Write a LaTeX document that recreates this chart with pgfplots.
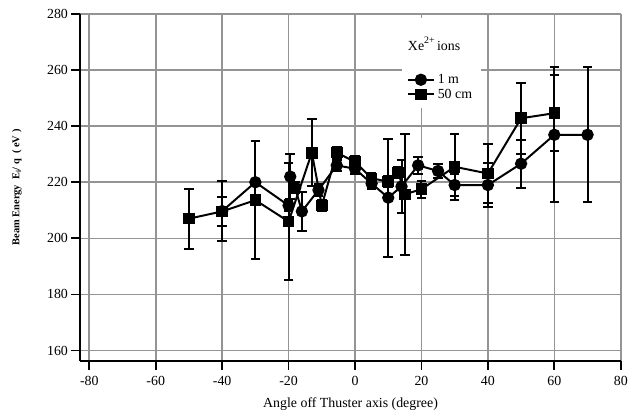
\documentclass[border=0pt]{standalone}
\usepackage{pgfplots}
\pgfplotsset{compat=1.18}
\usepackage{pgfplotstable}
\usepackage{fontspec}
\setmainfont{Liberation Serif}

\pgfplotstableread{
x y e
-40 209.7 5.2
-30 220.0 0
-20 211.7 2
-19.5 222.0 8
-18 218.0 2
-16 209.6 7
-11 217.2 2
-5.5 226.0 2
0 224.8 2
5 219.5 2
10 214.5 21
14 218.5 9.3
19 226.0 3
25 224.0 2.5
30 219.0 4
40 219.0 8
50 226.6 8.6
60 236.9 24
70 236.9 24
}\onem

\pgfplotstableread{
x y e
-50 207.0 10.7
-40 209.6 10.7
-30 213.6 21.1
-20 206.0 21
-13 230.5 12
-10 211.7 2
-5.5 230.6 2
0 227.2 2
5 221.4 2
10 220.2 2
13 223.5 2
15 215.7 21.5
20 217.5 3
30 225.5 11.8
40 223.1 10.5
50 242.8 12.7
60 244.6 13.5
}\fiftycm

\begin{document}
\begin{tikzpicture}
\begin{axis}[
  scale only axis, width=545pt, height=350pt,
  xmin=-82.7, xmax=80, ymin=156.3, ymax=280,
  axis x line=bottom, axis y line=left,
  axis line style={-, line width=1.8pt},
  xtick={-80,-60,...,80}, ytick={160,180,...,280},
  tick align=outside, major tick length=9pt,
  tick style={black, line width=1.8pt},
  grid=major, grid style={black!42, line width=1.6pt},
  /pgf/number format/assume math mode=true,
  tick label style={font=\fontsize{14}{16}\selectfont},
  xticklabel style={yshift=-3pt},
  xlabel={Angle off Thuster axis (degree)},
  xlabel style={font=\fontsize{14}{16}\selectfont, at={(axis description cs:0.5,0)}, anchor=center, yshift=-44pt},
  ylabel={Beam Energy\ \ E\textsubscript{i}/ q\ \ ( eV )},
  ylabel style={font=\fontsize{10.5}{12}\selectfont\bfseries, at={(axis description cs:0,0.5)}, anchor=center, yshift=64pt},
  legend style={at={(axis cs:15.3,259.2)}, anchor=north west, draw=none, fill=white,
    font=\fontsize{14}{16}\selectfont, inner sep=1pt, row sep=2pt,
    nodes={inner xsep=3pt, inner ysep=1pt}},
  legend cell align=left,
  legend image code/.code={\draw[mark repeat=2,mark phase=2,#1] plot coordinates {(0pt,0pt) (13pt,0pt) (26pt,0pt)};},
]
\fill[white] (axis cs:14,246.5) rectangle (axis cs:38,278.6);
\node[font=\fontsize{14}{16}\selectfont] at (axis cs:23.8,269.3) {Xe\raisebox{1.1ex}{\fontsize{10}{11}\selectfont 2+}\,ions};

\addplot[black, line width=2pt, mark=*, mark size=5.2pt,
  error bars/.cd, y dir=both, y explicit,
  error bar style={line width=2pt},
  error mark options={rotate=90, mark size=4.8pt, line width=2pt}]
  table[x=x, y=y, y error=e] {\onem};
\addlegendentry{1 m}

\addplot[black, line width=2pt, mark=square*, mark size=4.8pt,
  error bars/.cd, y dir=both, y explicit,
  error bar style={line width=2pt},
  error mark options={rotate=90, mark size=4.8pt, line width=2pt}]
  table[x=x, y=y, y error=e] {\fiftycm};
\addlegendentry{50 cm}
\end{axis}
\path (current axis.south west) ++(-81pt,-55pt) (current axis.north east) ++(5pt,14pt);
\end{tikzpicture}
\end{document}
